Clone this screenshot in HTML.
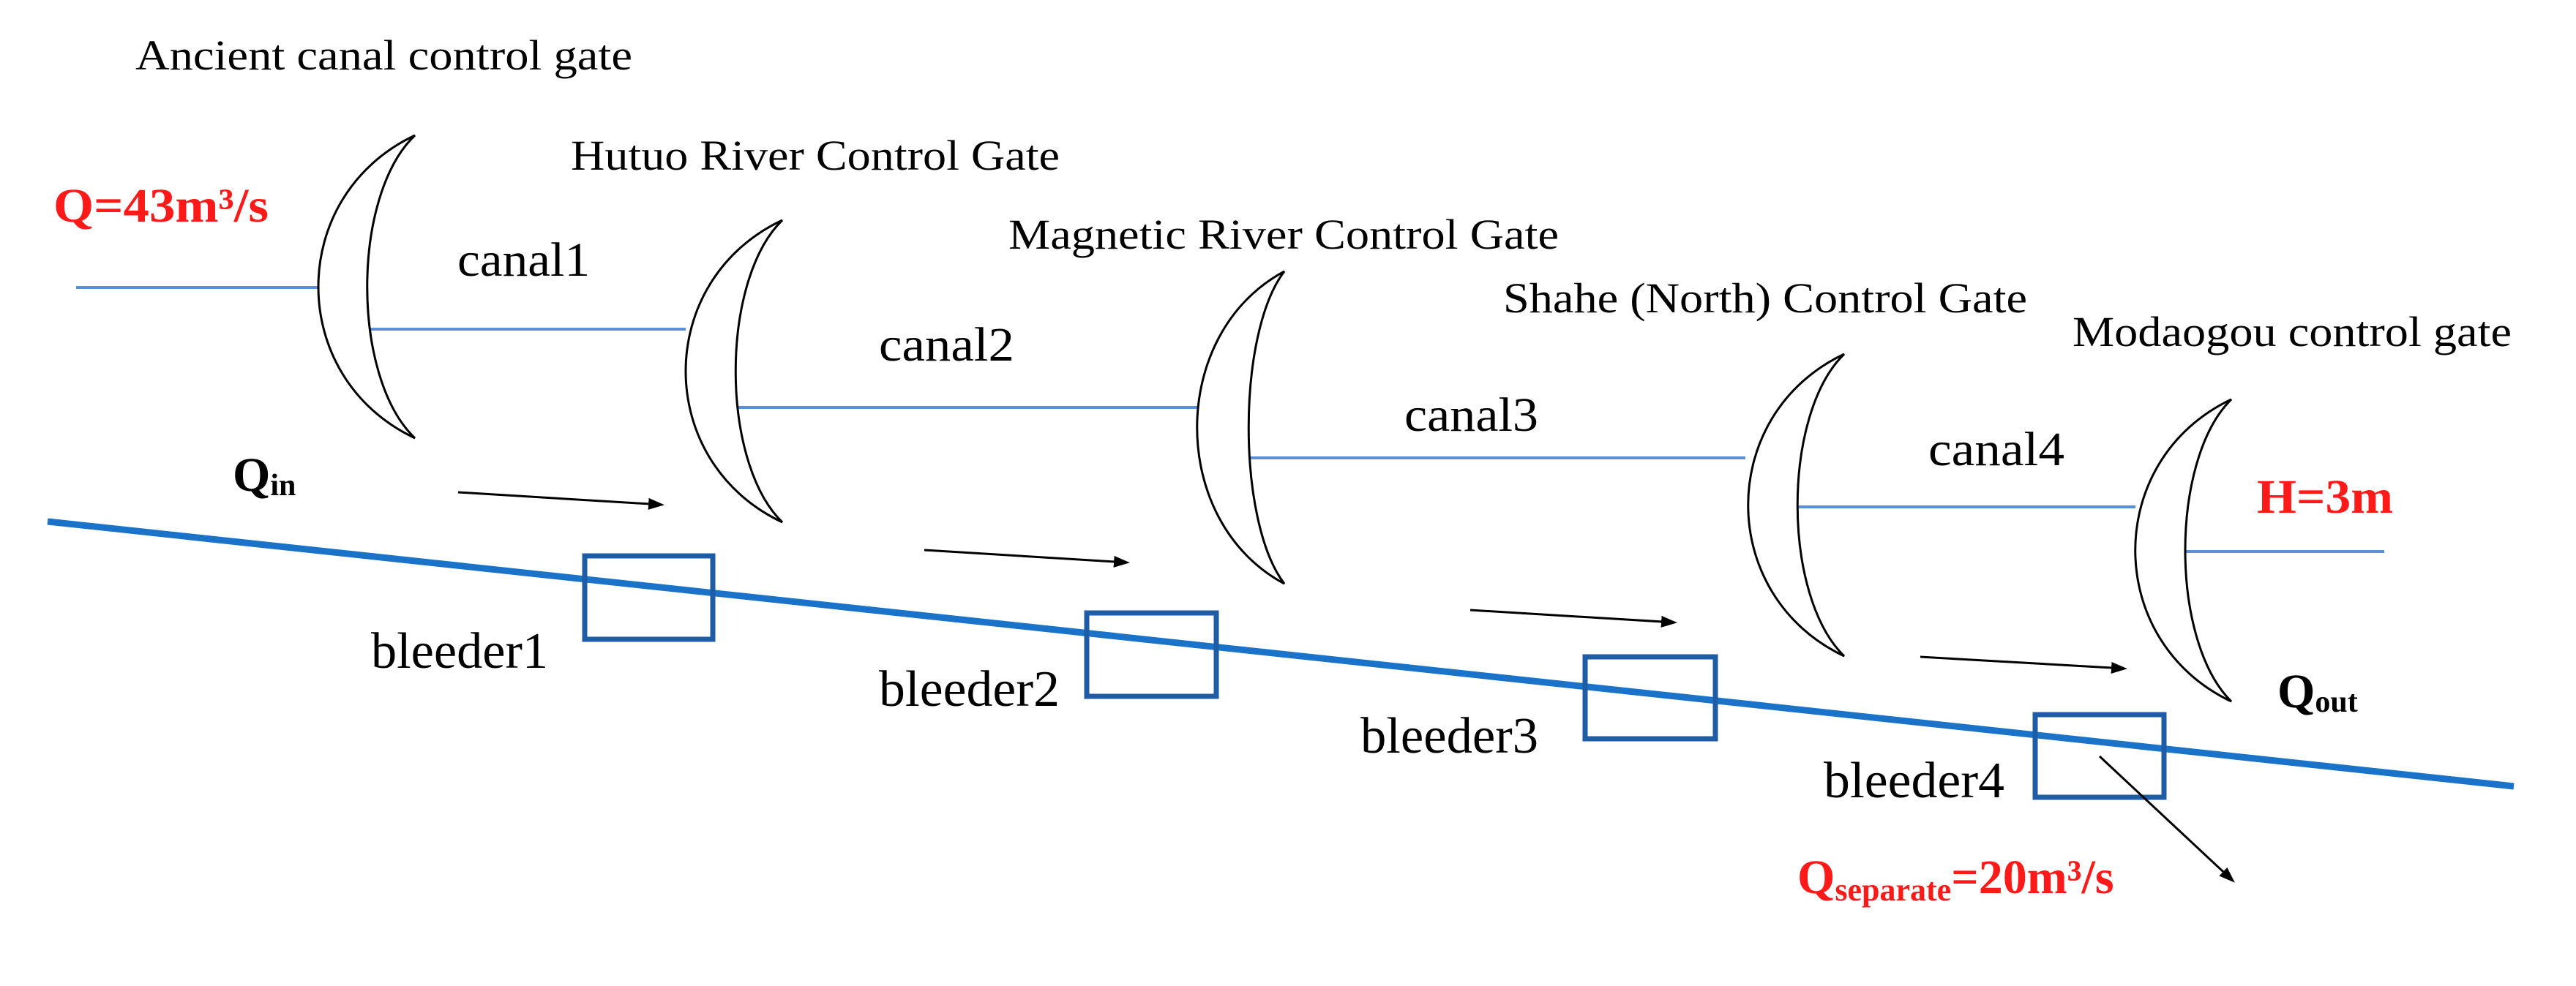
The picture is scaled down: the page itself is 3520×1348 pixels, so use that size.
<!DOCTYPE html>
<html><head><meta charset="utf-8"><style>
html,body{margin:0;padding:0;background:#fff;}
svg{display:block;}
text{font-family:"Liberation Serif",serif;}
</style></head><body>
<svg width="3520" height="1348" viewBox="0 0 3520 1348" xmlns="http://www.w3.org/2000/svg">
<defs>
<marker id="ah2" markerWidth="22" markerHeight="22" refX="18" refY="11" orient="auto" markerUnits="userSpaceOnUse" viewBox="0 0 22 22">
<path d="M0,3 L22,11 L0,19 Z" fill="#000"/>
</marker>
</defs>
<rect width="3520" height="1348" fill="#fff"/>

<g stroke="#5b8fd6" stroke-width="4" fill="none">
<line x1="104" y1="393" x2="435" y2="393"/>
<line x1="502" y1="450" x2="937" y2="450"/>
<line x1="1005" y1="557" x2="1636" y2="557"/>
<line x1="1706" y1="626" x2="2385" y2="626"/>
<line x1="2456" y1="693" x2="2918" y2="693"/>
<line x1="2986" y1="754" x2="3258" y2="754"/>
</g>

<g stroke="#000" stroke-width="3" fill="#fff">
<path d="M567,185 C391,268 391,516 567,599 C480,516 480,268 567,185 Z"/>
<path d="M1069,301 C893,384 893,631 1069,714 C984,631 984,384 1069,301 Z"/>
<path d="M1755,371 C1596,456 1596,713 1755,798 C1690,713 1690,456 1755,371 Z"/>
<path d="M2520,484 C2345,567 2345,814 2520,897 C2435,814 2435,567 2520,484 Z"/>
<path d="M3049,546 C2874,629 2874,876 3049,959 C2965,876 2965,629 3049,546 Z"/>
</g>

<line x1="65" y1="713" x2="3435" y2="1075" stroke="#1a73c8" stroke-width="9"/>

<g stroke="#1f5ca6" stroke-width="7" fill="none">
<rect x="799" y="760" width="175" height="114"/>
<rect x="1485" y="838" width="177" height="114"/>
<rect x="2166" y="898" width="178" height="112"/>
<rect x="2781" y="977" width="176" height="113"/>
</g>

<g stroke="#000" stroke-width="3">
<line x1="626" y1="673" x2="904" y2="690" marker-end="url(#ah2)"/>
<line x1="1263" y1="752" x2="1540" y2="769" marker-end="url(#ah2)"/>
<line x1="2009" y1="834" x2="2288" y2="851" marker-end="url(#ah2)"/>
<line x1="2624" y1="898" x2="2903" y2="914" marker-end="url(#ah2)"/>
<line x1="2869" y1="1034" x2="3051" y2="1204" marker-end="url(#ah2)"/>
</g>

<g fill="#000" font-size="58">
<text x="185" y="95" textLength="679" lengthAdjust="spacingAndGlyphs">Ancient canal control gate</text>
<text x="780" y="232" textLength="668" lengthAdjust="spacingAndGlyphs">Hutuo River Control Gate</text>
<text x="1378" y="340" textLength="752" lengthAdjust="spacingAndGlyphs">Magnetic River Control Gate</text>
<text x="2054" y="427" textLength="716" lengthAdjust="spacingAndGlyphs">Shahe (North) Control Gate</text>
<text x="2832" y="473" textLength="600" lengthAdjust="spacingAndGlyphs">Modaogou control gate</text>
</g>
<g fill="#000" font-size="66">
<text x="625" y="377" textLength="181" lengthAdjust="spacingAndGlyphs">canal1</text>
<text x="1201" y="493" textLength="185" lengthAdjust="spacingAndGlyphs">canal2</text>
<text x="1919" y="589" textLength="183" lengthAdjust="spacingAndGlyphs">canal3</text>
<text x="2635" y="636" textLength="186" lengthAdjust="spacingAndGlyphs">canal4</text>
</g>
<g fill="#000" font-size="70">
<text x="507" y="913" textLength="242" lengthAdjust="spacingAndGlyphs">bleeder1</text>
<text x="1201" y="965" textLength="247" lengthAdjust="spacingAndGlyphs">bleeder2</text>
<text x="1859" y="1029" textLength="243" lengthAdjust="spacingAndGlyphs">bleeder3</text>
<text x="2492" y="1090" textLength="247" lengthAdjust="spacingAndGlyphs">bleeder4</text>
</g>

<g font-weight="bold">
<text x="73" y="303" font-size="66" fill="#ff1a1a" textLength="294" lengthAdjust="spacingAndGlyphs">Q=43m³/s</text>
<text x="318" y="671" font-size="66" fill="#000">Q<tspan font-size="42" dy="6">in</tspan></text>
<text x="3084" y="701" font-size="66" fill="#ff1a1a" textLength="186" lengthAdjust="spacingAndGlyphs">H=3m</text>
<text x="3112" y="967" font-size="66" fill="#000">Q<tspan font-size="42" dy="6">out</tspan></text>
<text x="2456" y="1221" font-size="66" fill="#ff1a1a">Q<tspan font-size="44" dy="10">separate</tspan><tspan dy="-10">=20m³/s</tspan></text>
</g>
</svg>
</body></html>
